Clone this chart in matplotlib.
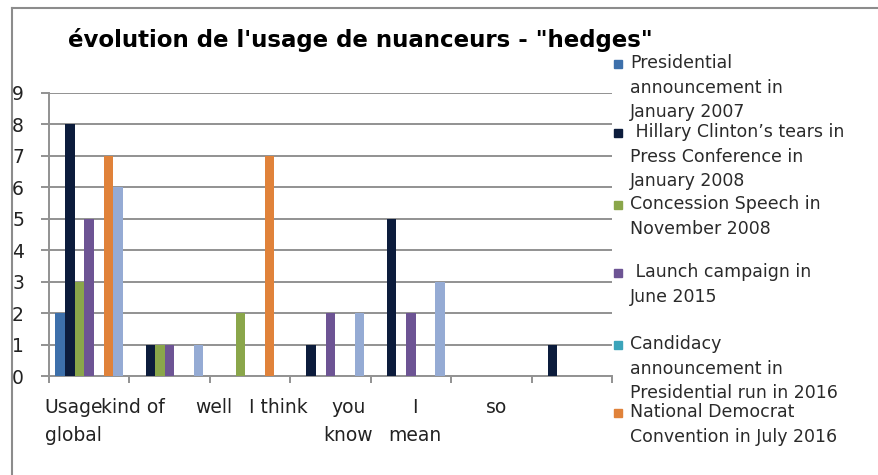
from matplotlib import pyplot as plt
from matplotlib.patches import Rectangle
from matplotlib.lines import Line2D
import numpy as np

plt.rcParams.update({'font.family': 'DejaVu Sans', 'font.size': 13})

categories = ['Usage\nglobal', 'kind of', 'well', 'I think', 'you\nknow', 'I\nmean', 'so']

series_names = [
    'Presidential\nannouncement in\nJanuary 2007',
    ' Hillary Clinton\u2019s tears in\nPress Conference in\nJanuary 2008',
    'Concession Speech in\nNovember 2008',
    ' Launch campaign in\nJune 2015',
    'Candidacy\nannouncement in\nPresidential run in 2016',
    'National Democrat\nConvention in July 2016',
    'Série 7',
]

series_values = [
    [2, 0, 0, 0, 0, 0, 0],
    [8, 1, 0, 1, 5, 0, 1],
    [3, 1, 2, 0, 0, 0, 0],
    [5, 1, 0, 2, 2, 0, 0],
    [0, 0, 0, 0, 0, 0, 0],
    [7, 0, 7, 0, 0, 0, 0],
    [6, 1, 0, 2, 3, 0, 0],
]

colors = ['#3d70ab', '#0c1c3c', '#8aa64a', '#6d5494', '#3ba4ba', '#e0823a', '#95abd4']

# where Excel put the category labels (a bit off the group centres)
label_pos = [0.31, 1.04, 2.05, 2.85, 3.72, 4.55, 5.57]

# legend rows: top of first line, in pixels from the top of the picture
legend_rows = [54, 123, 195, 263, 335, 403]

W, H = 879, 475
fig = plt.figure(figsize=(W / 100, H / 100), dpi=100)
ax = fig.add_axes([49 / W, 1 - 376 / H, (612 - 49) / W, (376 - 93) / H])

grey = '#929292'
n = len(series_values)
bw = 0.12
start = (1 - bw * n) / 2
x = np.arange(len(categories))
for k, vals in enumerate(series_values):
    ax.bar(x + start + bw / 2 + k * bw, vals, width=bw, color=colors[k],
           linewidth=0, zorder=3)

ax.set_xlim(0, len(categories))
ax.set_ylim(0, 9)
ax.set_yticks(range(10))
ax.yaxis.grid(True, color=grey, linewidth=1.4, zorder=0)
ax.tick_params(axis='y', length=6, width=1.4, color=grey, pad=12, labelsize=13.5,
               labelcolor='#222222')

ax.set_xticks(np.arange(len(categories) + 1), minor=True)
ax.set_xticks(label_pos)
ax.set_xticklabels(categories, linespacing=1.6)
ax.tick_params(axis='x', which='major', length=0, pad=16, labelsize=13.5,
               labelcolor='#222222')
ax.tick_params(axis='x', which='minor', length=5, width=1.4, color=grey)

for s in ['top', 'right']:
    ax.spines[s].set_visible(False)
for s in ['left', 'bottom']:
    ax.spines[s].set_color(grey)
    ax.spines[s].set_linewidth(1.4)

fig.text(360 / W, 1 - 40 / H, 'évolution de l\'usage de nuanceurs - "hedges"',
         ha='center', va='center', fontsize=16.5, fontweight='bold')

# hand-placed legend, like the Excel one that overflows its box
for k, top in enumerate(legend_rows):
    fig.patches.append(Rectangle((614 / W, 1 - (top + 14) / H), 8 / W, 8 / H,
                                 transform=fig.transFigure, color=colors[k]))
    fig.text(630 / W, 1 - top / H, series_names[k], ha='left', va='top',
             fontsize=12.5, linespacing=1.48, color='#2a2a2a')

# chart frame
fig.add_artist(Line2D([12 / W, 12 / W], [0, 1 - 8 / H], color='#8c8c8c', linewidth=1.5))
fig.add_artist(Line2D([12 / W, 1], [1 - 8 / H, 1 - 8 / H], color='#8c8c8c', linewidth=1.5))

fig.savefig('out.png', dpi=100)
